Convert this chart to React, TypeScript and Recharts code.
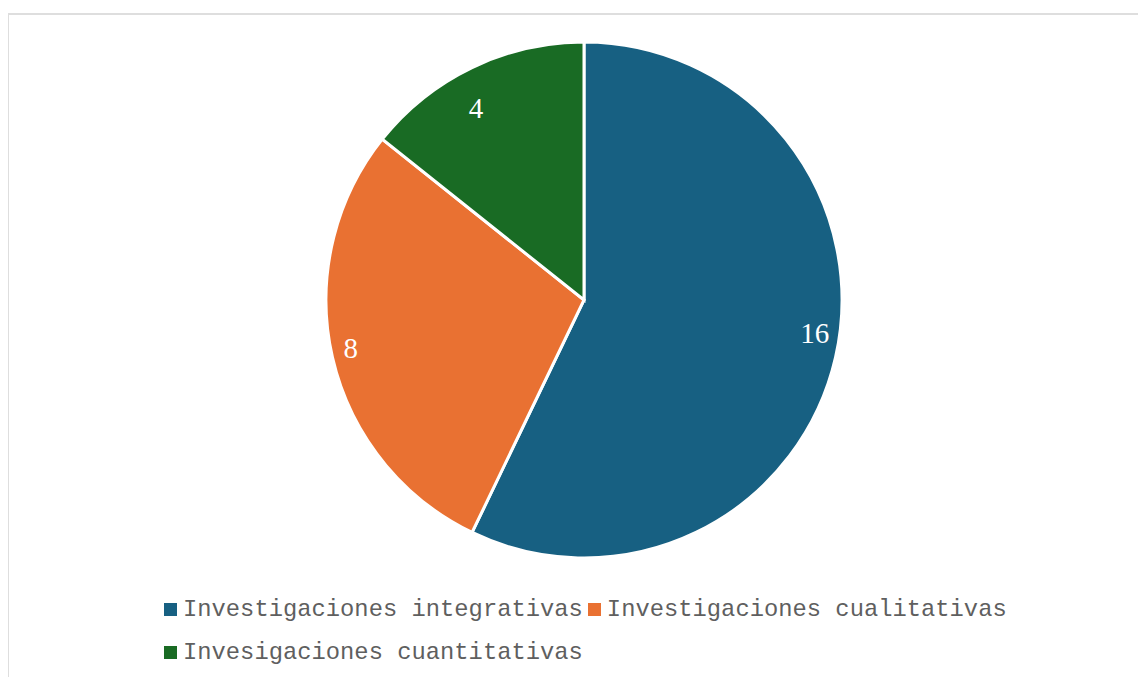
import { Cell, Legend, Pie, PieChart } from "recharts"

const categories = [
  "Investigaciones integrativas",
  "Investigaciones cualitativas",
  "Invesigaciones cuantitativas",
]
const values = [16, 8, 4]
const colors = ["#176082", "#e97132", "#196b24"]

// label placement tweaks (Excel best-fit style): angle nudge in degrees, radius in px
const labelNudge = [4.7, -1.3, 3.7]
const labelRadius = [233, 238, 220]

const data = categories.map((name, i) => ({ name, value: values[i] }))

const RAD = Math.PI / 180

function renderLabel(props: any) {
  const { cx, cy, midAngle, value, index } = props
  const r = labelRadius[index]
  const a = midAngle + labelNudge[index]
  const x = cx + r * Math.cos(-a * RAD)
  const y = cy + r * Math.sin(-a * RAD)
  return (
    <text
      x={x}
      y={y}
      fill="#ffffff"
      textAnchor="middle"
      dominantBaseline="central"
      style={{ fontFamily: "'Liberation Serif', serif", fontSize: 29 }}
    >
      {value}
    </text>
  )
}

function LegendContent() {
  return (
    <div style={{ display: "flex", flexWrap: "wrap", width: 860, rowGap: 15 }}>
      {categories.map((name, i) => (
        <div key={name} style={{ display: "flex", alignItems: "center", marginRight: 5, height: 28 }}>
          <span style={{ width: 13, height: 13, background: colors[i], marginRight: 6, display: "inline-block" }} />
          <span style={{ fontFamily: "'Liberation Mono', monospace", fontSize: 23.8, color: "#5f5f5f", whiteSpace: "pre" }}>
            {name}
          </span>
        </div>
      ))}
    </div>
  )
}

export default function App() {
  return (
    <div style={{ position: "relative", width: 1130, height: 669, overflow: "visible" }}>
      <div
        style={{
          position: "absolute",
          left: -1,
          top: 5,
          width: 1150,
          height: 700,
          border: "2px solid #dedede",
          boxSizing: "border-box",
        }}
      />
      <div style={{ position: "absolute", left: 0, top: 0 }}>
        <PieChart width={1130} height={669} margin={{ top: 0, right: 0, bottom: 0, left: 0 }}>
          <Pie
            data={data}
            dataKey="value"
            nameKey="name"
            cx={576}
            cy={292}
            outerRadius={258}
            startAngle={90}
            endAngle={-270}
            stroke="#ffffff"
            strokeWidth={3}
            label={renderLabel}
            labelLine={false}
            isAnimationActive={false}
          >
            {data.map((d, i) => (
              <Cell key={d.name} fill={colors[i]} />
            ))}
          </Pie>
          <Legend
            content={<LegendContent />}
            wrapperStyle={{ position: "absolute", left: 156, top: 587, width: 860 }}
          />
        </PieChart>
      </div>
    </div>
  )
}
